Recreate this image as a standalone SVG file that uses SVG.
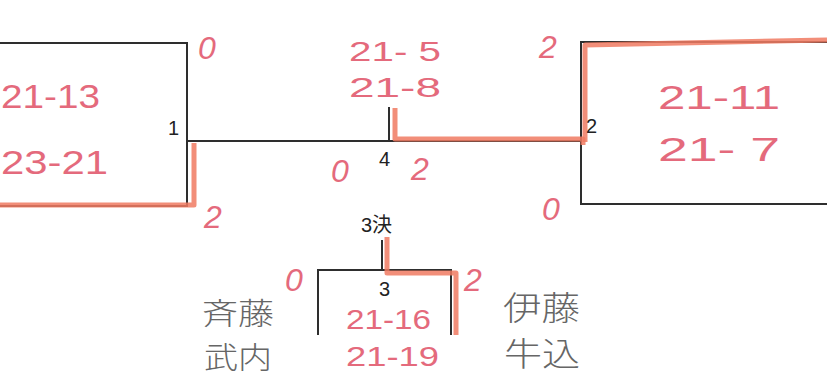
<svg xmlns="http://www.w3.org/2000/svg" width="827" height="383" viewBox="0 0 827 383">
<style>
.ln{fill:none;stroke:#2e2e2e;stroke-width:2}
.win{fill:none;stroke:#f07a62;stroke-width:5;stroke-linejoin:round;stroke-linecap:butt;opacity:0.85}
.hw{font-family:"Liberation Sans","DejaVu Sans",sans-serif;fill:#e46a7c}
.sc{font-size:34px}
.sm{font-size:28px}
.dg{font-size:32px;font-style:italic}
.lb{font-family:"Liberation Sans","Noto Sans CJK JP",sans-serif;fill:#222;font-size:20px}
.nm{font-family:"Noto Sans CJK JP",sans-serif;fill:#666;font-size:33px;font-weight:300}
.nms{font-size:30px}
</style>
<rect width="827" height="383" fill="#ffffff"/>
<g id="connectors">
<polyline class="ln" points="0,43 187,43 187,206 0,206"/>
<line class="ln" x1="187" y1="141" x2="581" y2="141"/>
<line class="ln" x1="389" y1="107" x2="389" y2="141"/>
<polyline class="ln" points="827,42 581,42 581,204 827,204"/>
<line class="ln" x1="382" y1="240" x2="382" y2="270"/>
<polyline class="ln" points="318,335 318,270 451,270 451,335"/>
<polyline class="win" points="0,205 194,205 194,143"/>
<polyline class="win" points="395,108 395,139 583,139 583,145"/>
<polyline class="win" points="585,142 585,45 827,40"/>
<polyline class="win" points="387,237 387,273 456,273 456,335"/>
</g>
<g id="match1">
<text class="lb" x="168" y="135">1</text>
<text class="hw sc" x="1" y="108" textLength="99" lengthAdjust="spacingAndGlyphs">21-13</text>
<text class="hw sc" x="1" y="174" textLength="107" lengthAdjust="spacingAndGlyphs">23-21</text>
<text class="hw dg" x="198" y="59">0</text>
<text class="hw dg" x="204" y="228">2</text>
</g>
<g id="match4">
<text class="lb" x="379" y="166">4</text>
<text class="hw sm" x="349" y="61" textLength="92" lengthAdjust="spacingAndGlyphs">21- 5</text>
<text class="hw sm" x="349" y="97" textLength="92" lengthAdjust="spacingAndGlyphs">21-8</text>
<text class="hw dg" x="331" y="182">0</text>
<text class="hw dg" x="411" y="180">2</text>
</g>
<g id="match2">
<text class="lb" x="586" y="133">2</text>
<text class="hw sc" x="658" y="109" textLength="122" lengthAdjust="spacingAndGlyphs">21-11</text>
<text class="hw sc" x="658" y="161" textLength="122" lengthAdjust="spacingAndGlyphs">21- 7</text>
<text class="hw dg" x="539" y="58">2</text>
<text class="hw dg" x="542" y="220">0</text>
</g>
<g id="match3">
<text class="lb" x="361" y="232">3決</text>
<text class="lb" x="379" y="296">3</text>
<text class="hw sm" x="346" y="329" textLength="85" lengthAdjust="spacingAndGlyphs">21-16</text>
<text class="hw sm" x="346" y="366" textLength="93" lengthAdjust="spacingAndGlyphs">21-19</text>
<text class="hw dg" x="285" y="291">0</text>
<text class="hw dg" x="464" y="291">2</text>
</g>
<g id="pairLeft">
<text class="nm nms" x="202" y="324" textLength="72" lengthAdjust="spacingAndGlyphs">斉藤</text>
<text class="nm nms" x="204" y="368" textLength="68" lengthAdjust="spacingAndGlyphs">武内</text>
</g>
<g id="pairRight">
<text class="nm" x="503" y="320" textLength="77" lengthAdjust="spacingAndGlyphs">伊藤</text>
<text class="nm" x="504" y="366" textLength="76" lengthAdjust="spacingAndGlyphs">牛込</text>
</g>
</svg>
